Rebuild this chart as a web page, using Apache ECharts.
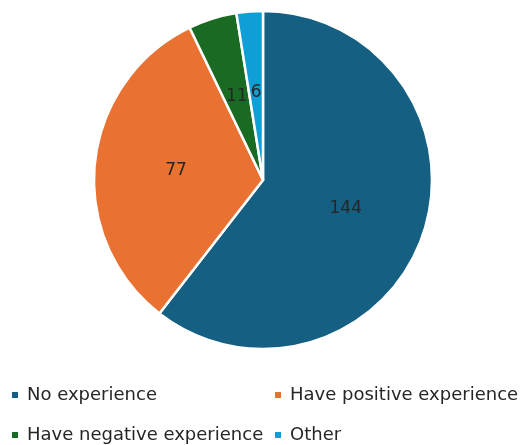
<!DOCTYPE html>
<html><head><meta charset="utf-8">
<script src="https://cdn.jsdelivr.net/npm/echarts@6/dist/echarts.min.js"></script>
<style>html,body{margin:0;padding:0;background:#fff}#c{width:521px;height:445px}</style>
</head><body><div id="c"></div>
<script>
const categories = ["No experience", "Have positive experience", "Have negative experience", "Other"];
const values = [144, 77, 11, 6];
const colors = ["#156082", "#E97132", "#196B24", "#0F9ED5"];

const chart = echarts.init(document.getElementById('c'), null, {renderer: 'canvas'});
const font = "DejaVu Sans";
const legendPos = [[10, 386], [273, 386], [10, 426], [273, 426]];
const legends = categories.map((name, i) => ({
  data: [name], left: legendPos[i][0], top: legendPos[i][1],
  icon: 'rect', itemWidth: 8, itemHeight: 8, itemGap: 0, padding: 0,
  textStyle: {fontFamily: font, fontSize: 18, color: '#262626', padding: [0, 0, 0, 3]},
  selectedMode: false
}));
chart.setOption({
  animation: false,
  color: colors,
  legend: legends,
  series: [{
    type: 'pie',
    center: [263, 180],
    radius: [0, 169],
    startAngle: 90,
    clockwise: true,
    data: categories.map((n, i) => ({name: n, value: values[i]})),
    itemStyle: {borderColor: '#fff', borderWidth: 2.5},
    label: {show: true, position: 'inside', formatter: '{c}', fontFamily: font, fontSize: 17, color: '#262626'},
    labelLine: {show: false},
    emphasis: {disabled: true}
  }]
});
</script></body></html>
